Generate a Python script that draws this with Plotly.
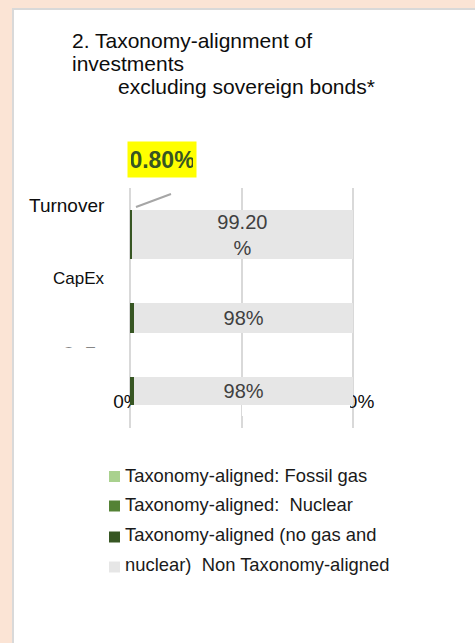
import plotly.graph_objects as go

# ---- data ----
categories = ["Turnover", "CapEx", "OpEx"]
fossil_gas = [0.0, 0.0, 0.0]
nuclear = [0.0, 0.0, 0.0]
aligned_other = [0.8, 2.0, 2.0]
non_aligned = [99.2, 98.0, 98.0]

series_names = [
    "Taxonomy-aligned: Fossil gas",
    "Taxonomy-aligned: Nuclear",
    "Taxonomy-aligned (no gas and nuclear)",
    "Non Taxonomy-aligned",
]
legend_rows = [
    "Taxonomy-aligned: Fossil gas",
    "Taxonomy-aligned:\u00a0 Nuclear",
    "Taxonomy-aligned (no gas and",
    "nuclear)\u00a0 Non Taxonomy-aligned",
]
tick_vals = [0, 50, 100]
tick_text = ["0%", "", "100%"]
title_lines = ["2. Taxonomy-alignment of", "investments", "excluding sovereign bonds*"]

# ---- style ----
colors = ["#A9D18E", "#548235", "#375623", "#E6E6E6"]
FONT = "Liberation Sans, Arial, sans-serif"
W, H = 475, 643
L, R, T, B = 100, 95, 188, 215
PW, PH = W - L - R, H - T - B

# bar thickness / placement per row (category units)
bar_offset = [-0.25, -0.0875, -0.1625]
bar_width = [0.6125, 0.375, 0.35]


def fx(px):
    return (px - L) / PW


def fy(py):
    return (H - B - py) / PH


fig = go.Figure()

for name, vals, color in zip(series_names,
                             [fossil_gas, nuclear, aligned_other, non_aligned],
                             colors):
    kw = {}
    if name == series_names[-1]:
        kw = dict(
            text=[f"{non_aligned[0]:.2f}<br>%"] + [f"{v:.0f}%" for v in non_aligned[1:]],
            textposition="inside",
            insidetextanchor="middle",
            constraintext="none",
            textangle=0,
            textfont=dict(family=FONT, size=20, color="#404040"),
        )
    fig.add_trace(go.Bar(
        y=categories, x=vals, orientation="h", name=name,
        marker=dict(color=color, line=dict(width=0)),
        offset=bar_offset, width=bar_width,
        showlegend=False, hoverinfo="x+name",
        **kw,
    ))

# axis scale: 0 -> 130px, 100 -> 353px
ppu = 2.23
x0 = -(130 - L) / ppu
x1 = x0 + PW / ppu

annotations = []

# title
for text, x, y in zip(title_lines, [70, 70, 116], [40.5, 63.5, 86.5]):
    annotations.append(dict(
        text=text, x=fx(x), y=fy(y), xref="paper", yref="paper",
        xanchor="left", yanchor="middle", showarrow=False,
        font=dict(family=FONT, size=21, color="#0D0D0D"),
    ))

# row labels
for text, y, size in zip(categories, [205, 278.5, 353], [19, 17, 17]):
    annotations.append(dict(
        text=text, x=fx(107), y=fy(y), xref="paper", yref="paper",
        xanchor="right", yanchor="middle", showarrow=False,
        font=dict(family=FONT, size=size, color="#0D0D0D"),
    ))

# the OpEx row label is clipped by the chart body below its top edge
annotations.append(dict(
    text="\u00a0", x=fx(82), y=fy(347.2), xref="paper", yref="paper",
    xanchor="center", yanchor="top", showarrow=False,
    width=60, height=24, borderpad=0, bgcolor="#FFFFFF",
))

# highlighted call-out for the aligned share of turnover
annotations.append(dict(
    text=f"<b>{aligned_other[0]:.2f}%</b>", x=fx(127), y=fy(141),
    xref="paper", yref="paper", xanchor="left", yanchor="top",
    showarrow=False, width=62, height=29, borderpad=3, bgcolor="#FFFF00",
    font=dict(family=FONT, size=23, color="#375623"),
))

shapes = [
    # white chart panel on the page
    dict(type="rect", xref="paper", yref="paper", layer="below",
         x0=fx(13), x1=fx(490), y0=fy(9), y1=fy(660),
         fillcolor="#FFFFFF", line=dict(color="#D9D9D9", width=2)),
    # leader line of the call-out
    dict(type="line", xref="paper", yref="paper",
         x0=fx(136), y0=fy(207), x1=fx(171), y1=fy(194),
         line=dict(color="#A6A6A6", width=2)),
]

# the last bar row's band masks the axis labels just beneath it
# (kept clear of the gridlines)
for a, b in [(131.5, 240), (242, 350)]:
    shapes.append(dict(type="rect", xref="paper", yref="paper", layer="above",
                       x0=fx(a), x1=fx(b), y0=fy(405), y1=fy(416),
                       fillcolor="#FFFFFF", line=dict(width=0)))

# legend
for i, (row, color) in enumerate(zip(legend_rows, colors)):
    cy = [476.5, 506, 537, 567][i]
    ty = [475, 504.5, 534.7, 564.5][i]
    shapes.append(dict(type="rect", xref="paper", yref="paper",
                       x0=fx(109), x1=fx(120), y0=fy(cy - 5.5), y1=fy(cy + 5.5),
                       fillcolor=color, line=dict(width=0)))
    annotations.append(dict(
        text=row, x=fx(123), y=fy(ty), xref="paper", yref="paper",
        xanchor="left", yanchor="middle", showarrow=False,
        font=dict(family=FONT, size=18.4, color="#1A1A1A"),
    ))

fig.update_layout(
    width=W, height=H,
    margin=dict(l=L, r=R, t=T, b=B, pad=0),
    paper_bgcolor="#FBE4D5",
    plot_bgcolor="#FFFFFF",
    barmode="stack",
    showlegend=False,
    font=dict(family=FONT),
    xaxis=dict(
        range=[x0, x1], tickvals=tick_vals, ticktext=tick_text,
        showgrid=True, gridcolor="#D9D9D9", gridwidth=2,
        zeroline=False, showline=False, ticks="",
        ticklabelposition="inside", ticklabeloverflow="allow",
        ticklabelstandoff=13, ticklabelshift=-3,
        layer="below traces",
        tickfont=dict(family=FONT, size=19, color="#0D0D0D"),
        fixedrange=True,
    ),
    yaxis=dict(
        type="category", categoryorder="array", categoryarray=categories,
        range=[2.475, -0.525], showticklabels=False, showgrid=False,
        zeroline=False, showline=False, ticks="", fixedrange=True,
    ),
    annotations=annotations,
    shapes=shapes,
)

fig.write_html("out.html")
